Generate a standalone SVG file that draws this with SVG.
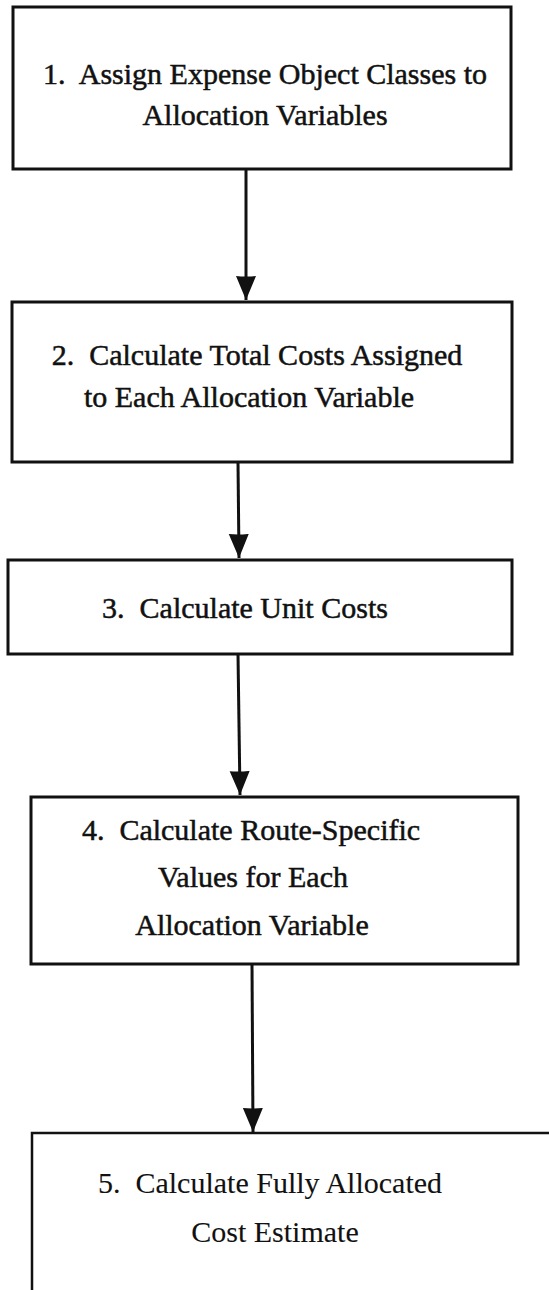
<svg xmlns="http://www.w3.org/2000/svg" width="549" height="1290" viewBox="0 0 549 1290">
<style>
.box{fill:#fff;stroke:#111;stroke-width:3}
.t{font-family:"Liberation Serif","Times New Roman",serif;font-size:30px;fill:#111;text-anchor:middle;stroke:#111;stroke-width:0.5}
.t5{stroke-width:0.1}
.conn{stroke:#111;stroke-width:3;fill:none}
</style>
<defs>
<marker id="ah" markerUnits="userSpaceOnUse" markerWidth="26" markerHeight="24" refX="24" refY="11" orient="auto">
<path d="M0,1 Q1,11 0,21 L24,11 Z" fill="#111"/>
</marker>
</defs>
<rect width="549" height="1290" fill="#fff"/>
<g id="connectors">
<line class="conn" x1="246" y1="169" x2="246" y2="300" marker-end="url(#ah)"/>
<line class="conn" x1="238" y1="462" x2="239" y2="558" marker-end="url(#ah)"/>
<line class="conn" x1="238" y1="654" x2="240" y2="795" marker-end="url(#ah)"/>
<line class="conn" x1="252" y1="964" x2="253" y2="1132" marker-end="url(#ah)"/>
</g>
<g id="node1">
<rect class="box" x="13" y="7" width="498" height="162"/>
<text class="t" x="265" y="84">1.&#160; Assign Expense Object Classes to</text>
<text class="t" x="265" y="125">Allocation Variables</text>
</g>
<g id="node2">
<rect class="box" x="12" y="302" width="500" height="160"/>
<text class="t" x="257" y="365">2.&#160; Calculate Total Costs Assigned</text>
<text class="t" x="249" y="407">to Each Allocation Variable</text>
</g>
<g id="node3">
<rect class="box" x="8" y="560" width="504" height="94"/>
<text class="t" x="245" y="618">3.&#160; Calculate Unit Costs</text>
</g>
<g id="node4">
<rect class="box" x="31" y="797" width="487" height="167"/>
<text class="t" x="251" y="840">4.&#160; Calculate Route-Specific</text>
<text class="t" x="253" y="887">Values for Each</text>
<text class="t" x="252" y="935">Allocation Variable</text>
</g>
<g id="node5">
<rect class="box" x="32" y="1133" width="540" height="200" style="stroke-width:2.5"/>
<text class="t t5" x="270" y="1193">5.&#160; Calculate Fully Allocated</text>
<text class="t t5" x="275" y="1242">Cost Estimate</text>
</g>
</svg>
